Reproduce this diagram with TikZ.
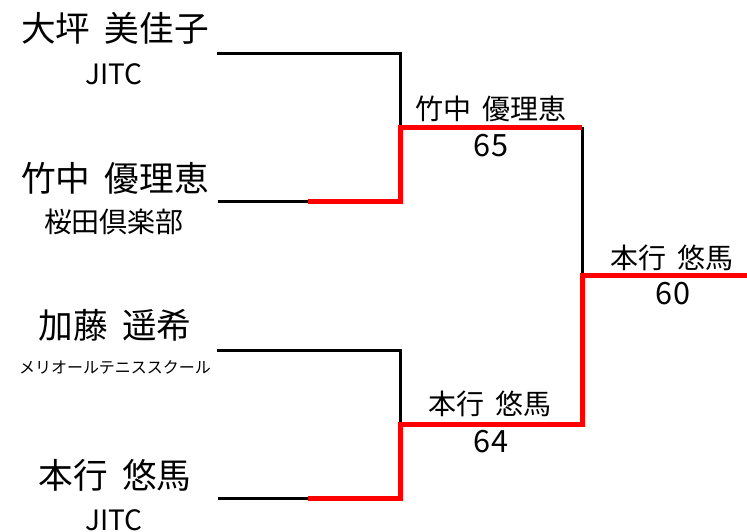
\documentclass[tikz,border=0pt]{standalone}
\usepackage{fontspec}
\setmainfont{Noto Sans CJK JP}
\newcommand\nmgap{\hspace{0.42em}}
\begin{document}
\begin{tikzpicture}[x=0.75pt,y=-0.75pt,
  txt/.style={inner sep=0pt,anchor=center,text=black},
  bigname/.style={txt,font=\fontsize{26}{30}\selectfont},
  club/.style={txt,font=\fontsize{21}{25}\selectfont},
  smallclub/.style={txt,font=\fontsize{12}{14}\selectfont},
  winname/.style={txt,font=\fontsize{21}{25}\selectfont},
  score/.style={txt,font=\fontsize{23}{27}\selectfont},
  loser/.style={draw=black,line width=2.25pt,line join=miter},
  winner/.style={draw=red,line width=3.75pt,line join=miter}]
\useasboundingbox (0,0) rectangle (747,532);
% players
\node[bigname] (n1) at (115,28) {大坪\nmgap 美佳子};
\node[club] (c1) at (114,74) {JITC};
\node[bigname] (n2) at (115,178) {竹中\nmgap 優理恵};
\node[club] (c2) at (114,222) {桜田倶楽部};
\node[bigname] (n3) at (115,325) {加藤\nmgap 遥希};
\node[smallclub] (c3) at (115,367) {メリオールテニススクール};
\node[bigname] (n4) at (115,475) {本行\nmgap 悠馬};
\node[club] (c4) at (114,520) {JITC};
% bracket points
\coordinate (s1) at (217,53);
\coordinate (e1) at (400,53);
\coordinate (s2) at (218,201);
\coordinate (m2) at (308,201);
\coordinate (e2) at (400,201);
\coordinate (j1) at (400,127);
\coordinate (k1) at (582,127);
\coordinate (s3) at (217,350);
\coordinate (e3) at (400,350);
\coordinate (s4) at (218,498);
\coordinate (m4) at (308,498);
\coordinate (e4) at (400,498);
\coordinate (j2) at (400,424);
\coordinate (k2) at (582,424);
\coordinate (f) at (582,275);
\coordinate (fe) at (747,275);
% lines
\draw[loser] (s1) -- (e1) -- (j1);
\draw[loser] (s2) -- (m2);
\draw[loser] (k1) -- (f);
\draw[loser] (s3) -- (e3) -- (j2);
\draw[loser] (s4) -- (m4);
\draw[winner] (m2) -- (e2) -- (j1) -- (k1);
\draw[winner] (m4) -- (e4) -- (j2) -- (k2) -- (f) -- (fe);
% results
\node[winname] (w1) at (491,109) {竹中\nmgap 優理恵};
\node[score] (r1) at (491,145.5) {65};
\node[winname] (w2) at (490,404) {本行\nmgap 悠馬};
\node[score] (r2) at (491,442) {64};
\node[winname] (w3) at (672,258) {本行\nmgap 悠馬};
\node[score] (r3) at (673,294) {60};
\end{tikzpicture}
\end{document}
